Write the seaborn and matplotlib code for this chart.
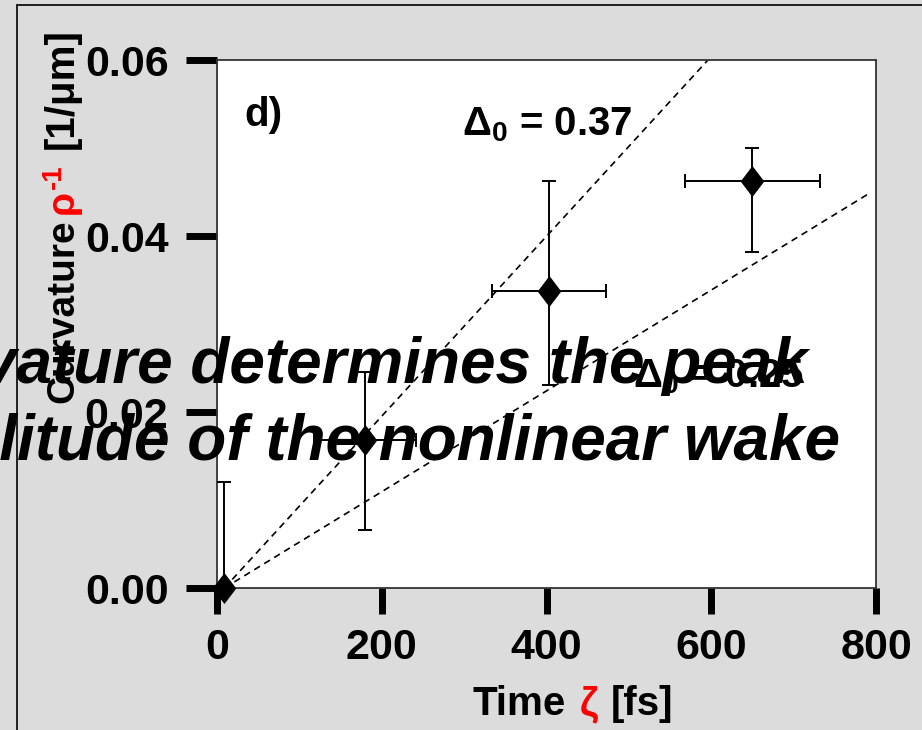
import matplotlib
matplotlib.use("Agg")
import matplotlib.pyplot as plt
from matplotlib.lines import Line2D
from matplotlib.path import Path
import seaborn as sns
import pandas as pd
import numpy as np

# ---- data ----
time_fs = [9, 180, 403, 650]
curvature = [0.0, 0.0168, 0.03375, 0.04625]
xerr_low = [0, 62, 69, 82]
xerr_high = [0, 62, 69, 82]
yerr_low = [0.0, 0.0102, 0.0107, 0.0081]
yerr_high = [0.0120, 0.0078, 0.0125, 0.0038]

fit_a_x = [9, 596]
fit_a_y = [0.0, 0.06]
fit_b_x = [9, 791]
fit_b_y = [0.0, 0.0448]

xticks = [0, 200, 400, 600, 800]
yticks = [0.00, 0.02, 0.04, 0.06]
ytick_labels = ["0.00", "0.02", "0.04", "0.06"]

# ---- style ----
sns.set_style("white")
plt.rcParams['font.family'] = ['Liberation Sans', 'DejaVu Sans']
plt.rcParams['font.weight'] = 'bold'
plt.rcParams['text.color'] = 'black'
plt.rcParams['axes.labelcolor'] = 'black'
plt.rcParams['xtick.color'] = 'black'
plt.rcParams['ytick.color'] = 'black'
plt.rcParams['mathtext.fontset'] = 'custom'
plt.rcParams['mathtext.rm'] = 'Liberation Sans:bold'
plt.rcParams['mathtext.it'] = 'Liberation Sans:bold'
plt.rcParams['mathtext.bf'] = 'Liberation Sans:bold'

BG = '#dcdcdc'
W, H = 922, 730
fig = plt.figure(figsize=(W / 100, H / 100), dpi=100, facecolor=BG)
ax = fig.add_axes([217 / W, (H - 588) / H, 659 / W, 528 / H])
ax.set_facecolor('white')

df = pd.DataFrame({"t": time_fs, "c": curvature})

# fit lines
sns.lineplot(x=fit_a_x, y=fit_a_y, ax=ax, color='black', lw=1.2, zorder=2)
ax.lines[-1].set_dashes((4, 3))
sns.lineplot(x=fit_b_x, y=fit_b_y, ax=ax, color='black', lw=1.2, zorder=2)
ax.lines[-1].set_dashes((4, 3))

# error bars
ax.errorbar(time_fs, curvature, xerr=[xerr_low, xerr_high], yerr=[yerr_low, yerr_high],
            fmt='none', ecolor='black', elinewidth=1.4, capsize=5, capthick=1.4, zorder=3)

diamond = Path([(0, 1), (0.76, 0), (0, -1), (-0.76, 0), (0, 1)],
               [Path.MOVETO, Path.LINETO, Path.LINETO, Path.LINETO, Path.CLOSEPOLY])
sns.scatterplot(data=df, x="t", y="c", ax=ax, marker=diamond, s=500, color='black',
                edgecolor='black', linewidth=0, zorder=4, clip_on=False)

ax.set_xlim(0, 800)
ax.set_ylim(0, 0.06)
ax.set_xticks(xticks)
ax.set_xticklabels([str(v) for v in xticks])
ax.set_yticks(yticks)
ax.set_yticklabels(ytick_labels)
ax.set_xlabel("")
ax.set_ylabel("")
ax.tick_params(axis='x', which='major', bottom=True, direction='out', length=19, width=5,
               color='black', labelcolor='black', labelsize=31, pad=10)
ax.tick_params(axis='y', which='major', left=True, direction='out', length=22, width=5,
               color='black', labelcolor='black', labelsize=31, pad=13)
for lab in ax.get_xticklabels() + ax.get_yticklabels():
    lab.set_fontweight('bold')
for s in ax.spines.values():
    s.set_color('#333333')
    s.set_linewidth(1.3)

# panel annotations
ax.text(0.042, 0.875, "d)", transform=ax.transAxes, fontsize=29, fontweight='bold',
        ha='left', va='baseline', color='black')
ax.text(297, 0.0514, r"$\Delta_0$ = 0.37", fontsize=29, fontweight='bold', ha='left',
        va='baseline', color='black')
ax.text(505, 0.0228, r"$\Delta_0$ = 0.25", fontsize=29, fontweight='bold', ha='left',
        va='baseline', color='black')

# figure border (top and left)
fig.add_artist(Line2D([17 / W, 17 / W], [0, 1 - 5 / H], transform=fig.transFigure, color='black', lw=1.2))
fig.add_artist(Line2D([17 / W, 1], [1 - 5 / H, 1 - 5 / H], transform=fig.transFigure, color='black', lw=1.2))

fig.canvas.draw()
renderer = fig.canvas.get_renderer()

def fx(px):
    return px / W

def fy(py):
    return 1 - py / H

# x label: "Time ζ [fs]" with red ζ
xl_pieces = [("Time", 'black', 29), ("ζ", 'red', 29), ("[fs]", 'black', 29)]
gaps_x = [14, 12]
widths = []
tmp = []
for txt, col, fs in xl_pieces:
    t = fig.text(0, 0, txt, fontsize=fs, fontweight='bold', color=col)
    widths.append(t.get_window_extent(renderer).width)
    tmp.append(t)
for t in tmp:
    t.remove()
total = sum(widths) + sum(gaps_x)
cx = 573
x0 = cx - total / 2
for i, (txt, col, fs) in enumerate(xl_pieces):
    fig.text(fx(x0), fy(715), txt, fontsize=fs, fontweight='bold', color=col,
             ha='left', va='baseline')
    x0 += widths[i] + (gaps_x[i] if i < len(gaps_x) else 0)

# y label: "Curvature ρ^-1 [1/μm]" rotated, ρ^-1 red
yl_pieces = [("Curvature", 'black', 28, 0, 5), ("ρ", 'red', 28, 0, 1),
             ("-1", 'red', 20, 12, 16), ("[1/μm]", 'black', 29, 0, 0)]
ybase = 403
bx = 73
for txt, col, fs, shift, gap in yl_pieces:
    t = fig.text(fx(bx - shift), fy(ybase), txt, fontsize=fs, fontweight='bold', color=col,
                 rotation=90, rotation_mode='anchor', ha='left', va='baseline')
    ext = t.get_window_extent(renderer)
    ybase -= ext.height + gap

# overlay title text
fig.text(fx(808), fy(383), "Curvature determines the peak", fontsize=46,
         fontweight='bold', fontstyle='italic', ha='right', va='baseline', color='black')
fig.text(fx(840), fy(460), "amplitude of the nonlinear wake", fontsize=46,
         fontweight='bold', fontstyle='italic', ha='right', va='baseline', color='black')

fig.savefig("out.png", dpi=100, facecolor=BG)
